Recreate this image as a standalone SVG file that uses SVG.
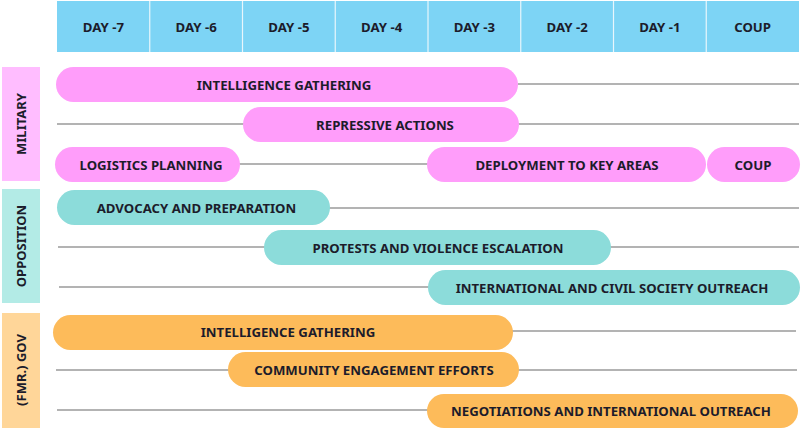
<svg xmlns="http://www.w3.org/2000/svg" width="801" height="428" viewBox="0 0 801 428">
<style>
text{font-family:"Noto Sans","Liberation Sans",sans-serif;font-weight:700;fill:#1c1c2b;text-anchor:middle;dominant-baseline:central}
.h{font-size:13.2px}
.b{font-size:13.2px}
.s{font-size:13px}
.hd{fill:#7dd4f5}
.mil{fill:#ff9dfa}
.opp{fill:#8cdcda}
.gov{fill:#fdbb5a}
.conn line{stroke:#9a9a9a;stroke-width:1.5}
</style>
<rect width="801" height="428" fill="#ffffff"/>
<g id="header">
<rect class="hd" x="57" y="1" width="742" height="51"/>
<g stroke="#e8f6fc" stroke-width="1.2">
<line x1="149.75" y1="1" x2="149.75" y2="52"/>
<line x1="242.5" y1="1" x2="242.5" y2="52"/>
<line x1="335.25" y1="1" x2="335.25" y2="52"/>
<line x1="428" y1="1" x2="428" y2="52"/>
<line x1="520.75" y1="1" x2="520.75" y2="52"/>
<line x1="613.5" y1="1" x2="613.5" y2="52"/>
<line x1="706.25" y1="1" x2="706.25" y2="52"/>
</g>
<text class="h" x="103.4" y="27">DAY -7</text>
<text class="h" x="196.1" y="27">DAY -6</text>
<text class="h" x="288.9" y="27">DAY -5</text>
<text class="h" x="381.6" y="27">DAY -4</text>
<text class="h" x="474.4" y="27">DAY -3</text>
<text class="h" x="567.1" y="27">DAY -2</text>
<text class="h" x="659.9" y="27">DAY -1</text>
<text class="h" x="752.6" y="27">COUP</text>
</g>
<g id="connectors" class="conn">
<line x1="518" y1="84" x2="799" y2="84"/>
<line x1="57" y1="124" x2="245" y2="124"/>
<line x1="517" y1="124" x2="799" y2="124"/>
<line x1="238" y1="164" x2="429" y2="164"/>
<line x1="328" y1="208" x2="799" y2="208"/>
<line x1="58" y1="247" x2="266" y2="247"/>
<line x1="609" y1="247" x2="799" y2="247"/>
<line x1="59" y1="287" x2="430" y2="287"/>
<line x1="511" y1="331" x2="796" y2="331"/>
<line x1="56" y1="370" x2="230" y2="370"/>
<line x1="517" y1="370" x2="797" y2="370"/>
<line x1="57" y1="410" x2="429" y2="410"/>
</g>
<g id="lane-military">
<rect x="2" y="67" width="38" height="114" fill="#ffbdff"/>
<text class="s" transform="translate(21,124) rotate(-90)">MILITARY</text>
</g>
<g id="lane-opposition">
<rect x="2" y="189" width="38" height="114" fill="#b3ebe6"/>
<text class="s" transform="translate(21,246) rotate(-90)">OPPOSITION</text>
</g>
<g id="lane-gov">
<rect x="2" y="313" width="38" height="115" fill="#ffd699"/>
<text class="s" transform="translate(21,370) rotate(-90)">(FMR.) GOV</text>
</g>
<g id="mil-intel">
<rect class="mil" x="56" y="67" width="462" height="35" rx="17.5"/>
<text class="b" x="284" y="84.5">INTELLIGENCE GATHERING</text>
</g>
<g id="mil-repressive">
<rect class="mil" x="243" y="107" width="276" height="35" rx="17.5"/>
<text class="b" x="385" y="124.5">REPRESSIVE ACTIONS</text>
</g>
<g id="mil-logistics">
<rect class="mil" x="55" y="147" width="185" height="35" rx="17.5"/>
<text class="b" x="151" y="164.5">LOGISTICS PLANNING</text>
</g>
<g id="mil-deployment">
<rect class="mil" x="427" y="147" width="279" height="35" rx="17.5"/>
<text class="b" x="567" y="164.5">DEPLOYMENT TO KEY AREAS</text>
</g>
<g id="mil-coup">
<rect class="mil" x="707" y="147" width="93" height="35" rx="17.5"/>
<text class="b" x="753" y="164.5">COUP</text>
</g>
<g id="opp-advocacy">
<rect class="opp" x="57" y="190" width="273" height="35" rx="17.5"/>
<text class="b" x="196.5" y="207.5">ADVOCACY AND PREPARATION</text>
</g>
<g id="opp-protests">
<rect class="opp" x="264" y="230" width="347" height="35" rx="17.5"/>
<text class="b" x="438" y="247.5">PROTESTS AND VIOLENCE ESCALATION</text>
</g>
<g id="opp-outreach">
<rect class="opp" x="428" y="270" width="372" height="35" rx="17.5"/>
<text class="b" x="612" y="287.5">INTERNATIONAL AND CIVIL SOCIETY OUTREACH</text>
</g>
<g id="gov-intel">
<rect class="gov" x="53" y="315" width="460" height="35" rx="17.5"/>
<text class="b" x="288" y="331.5">INTELLIGENCE GATHERING</text>
</g>
<g id="gov-community">
<rect class="gov" x="228" y="352" width="291" height="35" rx="17.5"/>
<text class="b" x="374" y="369.5">COMMUNITY ENGAGEMENT EFFORTS</text>
</g>
<g id="gov-negotiations">
<rect class="gov" x="427" y="394" width="371" height="34" rx="17"/>
<text class="b" x="611" y="410.5">NEGOTIATIONS AND INTERNATIONAL OUTREACH</text>
</g>
</svg>
